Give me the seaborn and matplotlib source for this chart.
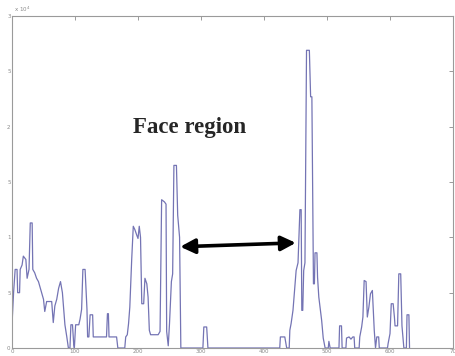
import matplotlib
matplotlib.use("Agg")
import matplotlib.pyplot as plt
import seaborn as sns
import pandas as pd

# vertices of the trace (y in units of 10^4)
pos = [0, 2.5, 5, 8, 9, 12, 13, 16, 18, 22, 24, 27, 29, 32, 33, 36, 39, 42, 44, 47,
       50, 52, 55, 63, 65.5, 68, 71, 74, 77, 80, 82, 84, 87, 89.5, 92, 93.5, 96, 98, 99,
       101, 106, 108, 110.5, 112.5, 116, 119, 120, 122, 124, 128, 129, 150, 151.5, 153,
       154, 166, 168, 179, 180.5, 183, 185, 187, 190, 192.5, 195, 198, 200, 202, 204,
       206, 209, 211, 214, 216, 218, 220, 232, 235, 237.5, 242, 244.5, 245.5, 248, 250,
       253, 255, 257, 261, 263, 266, 268, 303, 304.5, 309, 310, 311, 425, 426, 433, 436,
       440, 441, 443, 446, 449, 451, 454, 457, 459, 460, 461.5, 463, 465, 467.5, 472,
       474, 476, 478.5, 480, 481, 484, 485, 487, 489, 491.5, 494, 497, 502, 503, 505,
       519, 520, 523, 524, 530, 531, 535, 538, 541, 543, 544, 551, 552, 555, 557, 559,
       562, 564, 566.5, 569, 572, 575, 577, 579, 582, 583, 596, 597, 600, 602, 605, 607,
       608, 612, 614, 617, 619, 622, 626, 627, 630, 631]
val = [0.21, 0.5, 0.71, 0.71, 0.5, 0.5, 0.71, 0.75, 0.83, 0.8, 0.63, 0.71, 1.13, 1.13,
       0.71, 0.68, 0.63, 0.6, 0.56, 0.5, 0.44, 0.33, 0.42, 0.42, 0.23, 0.38, 0.44, 0.54,
       0.6, 0.5, 0.35, 0.21, 0.1, 0, 0, 0.21, 0.21, 0.03, 0, 0.21, 0.21, 0.26, 0.35,
       0.71, 0.71, 0.35, 0.1, 0.1, 0.3, 0.3, 0.1, 0.1, 0.31, 0.31, 0.1, 0.1, 0, 0, 0.1,
       0.12, 0.22, 0.37, 0.8, 1.1, 1.07, 1.02, 0.99, 1.1, 1.0, 0.4, 0.4, 0.63, 0.58,
       0.46, 0.16, 0.12, 0.12, 0.15, 1.34, 1.32, 1.3, 0.15, 0.02, 0.22, 0.6, 0.67, 1.65,
       1.65, 1.2, 1.0, 0, 0, 0.19, 0.19, 0.1, 0, 0, 0.1, 0.1, 0, 0, 0.16, 0.22, 0.34,
       0.55, 0.7, 0.77, 1.25, 1.25, 0.34, 0.34, 0.7, 0.77, 2.69, 2.69, 2.27, 2.27, 0.58,
       0.58, 0.86, 0.86, 0.64, 0.46, 0.37, 0.25, 0.09, 0, 0, 0.06, 0, 0, 0.2, 0.2, 0, 0,
       0.09, 0.1, 0.08, 0.1, 0.1, 0, 0, 0.1, 0.19, 0.28, 0.61, 0.6, 0.28, 0.37, 0.49,
       0.52, 0.16, 0, 0.1, 0.1, 0, 0, 0.04, 0.13, 0.4, 0.4, 0.28, 0.2, 0.2, 0.67, 0.67,
       0.2, 0, 0, 0.3, 0.3, 0]

xticks = [0, 100, 200, 300, 400, 500, 600, 700]
xtick_labels = ["0", "100", "200", "300", "400", "500", "600", "70"]
yticks = [0, 0.5, 1, 1.5, 2, 2.5, 3]
ytick_labels = ["0", "5", "1", "5", "2", "5", "3"]

df = pd.DataFrame({"pos": pos, "val": val})

sns.set_style("white")
plt.rcParams["font.family"] = ["DejaVu Sans"]

fig = plt.figure(figsize=(4.55, 3.56), dpi=100)
ax = fig.add_axes([12 / 455, 8 / 356, 441 / 455, 332 / 356])

sns.lineplot(data=df, x="pos", y="val", ax=ax, color="#7474b4", linewidth=0.9,
             estimator=None, sort=False)

ax.set_xlim(0, 700)
ax.set_ylim(0, 3)
ax.set_xticks(xticks)
ax.set_xticklabels(xtick_labels)
ax.set_yticks(yticks)
ax.set_yticklabels(ytick_labels)
ax.set_xlabel("")
ax.set_ylabel("")
ax.tick_params(direction="in", length=3, width=0.6, colors="#8a8a8a",
               labelsize=4, pad=1, top=True, right=True)
for s in ax.spines.values():
    s.set_color("#9a9a9a")
    s.set_linewidth(0.8)

ax.text(0.004, 1.005, r"x 10$^4$", transform=ax.transAxes, fontsize=4,
        color="#8a8a8a", va="bottom", ha="left")

ax.text(282, 1.99, "Face region", fontsize=16.5, fontweight="bold",
        family=["Liberation Serif", "DejaVu Serif"], ha="center", va="center")
ax.annotate("", xy=(267, 0.915), xytext=(450.5, 0.95),
            arrowprops=dict(arrowstyle="<|-|>", color="black", lw=2.6,
                            mutation_scale=22, shrinkA=0, shrinkB=0))

fig.savefig("out.png", dpi=100)
